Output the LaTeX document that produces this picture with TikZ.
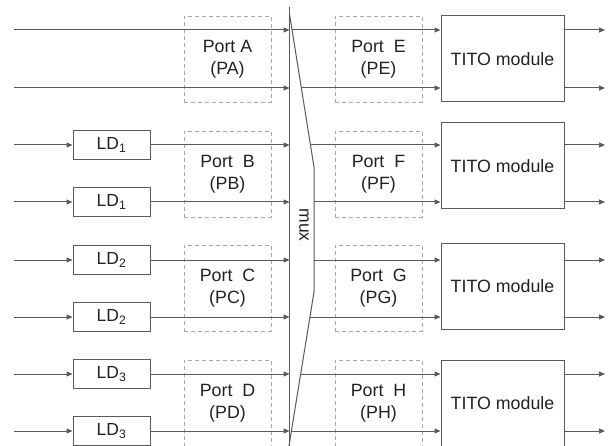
\documentclass[tikz,border=0pt]{standalone}
\usepackage{fontspec}
\setmainfont{Liberation Sans}
\usetikzlibrary{arrows.meta}
\definecolor{ln}{HTML}{5A5A5A}
\definecolor{dsh}{HTML}{A8A8A8}
\definecolor{tx}{HTML}{222222}
\begin{document}
\begin{tikzpicture}[x=1pt,y=-1pt,
  wire/.style={draw=ln,line width=1pt,-{Triangle[length=6pt,width=5pt]}},
  ldbox/.style={draw=ln,line width=1pt,minimum width=77pt,minimum height=29pt,inner sep=0pt,text=tx,font=\fontsize{17.5}{20}\selectfont},
  titobox/.style={draw=ln,line width=1pt,minimum width=123pt,minimum height=86pt,inner sep=0pt,text=tx,font=\fontsize{17.8}{20}\selectfont},
  portbox/.style={draw=dsh,dashed,dash pattern=on 4pt off 3pt,line width=0.7pt,minimum width=87pt,minimum height=86pt,inner sep=0pt,text=tx,align=center,font=\fontsize{17.8}{22}\selectfont}]
\clip (0,0) rectangle (615,446);
\fill[white] (0,0) rectangle (615,446);
% port boxes (dashed)
\node[portbox] (pa) at (227.5,59) {Port A\\(PA)};
\node[portbox] (pb) at (227.5,174) {Port\ \ B\\(PB)};
\node[portbox] (pc) at (227.5,288) {Port\ \ C\\(PC)};
\node[portbox] (pd) at (227.5,403) {Port\ \ D\\(PD)};
\node[portbox] (pe) at (378.5,59) {Port\ \ E\\(PE)};
\node[portbox] (pf) at (378.5,174) {Port\ \ F\\(PF)};
\node[portbox] (pg) at (378.5,288) {Port\ \ G\\(PG)};
\node[portbox] (ph) at (378.5,403) {Port\ \ H\\(PH)};
% TITO modules
\node[titobox] (t1) at (502.5,59) {TITO module};
\node[titobox] (t2) at (502.5,166) {TITO module};
\node[titobox] (t3) at (502.5,286) {TITO module};
\node[titobox] (t4) at (502.5,403) {TITO module};
% LD boxes
\node[ldbox] (l3) at (111.5,145) {LD\textsubscript{1}};
\node[ldbox] (l4) at (111.5,202) {LD\textsubscript{1}};
\node[ldbox] (l5) at (111.5,260) {LD\textsubscript{2}};
\node[ldbox] (l6) at (111.5,317) {LD\textsubscript{2}};
\node[ldbox] (l7) at (111.5,374) {LD\textsubscript{3}};
\node[ldbox] (l8) at (111.5,431) {LD\textsubscript{3}};
% mux
\coordinate (mt) at (289.5,7);
\coordinate (mb) at (289.5,450);
\coordinate (s1) at (289.5,14);
\coordinate (s2) at (314,167);
\coordinate (s3) at (314,292);
\coordinate (s4) at (288,452);
\draw[ln,line width=1pt] (mt) -- (mb);
\draw[ln,line width=1pt] (s1) -- (s2) -- (s3) -- (s4);
\node[rotate=-90,text=tx,font=\fontsize{17.5}{20}\selectfont] (mux) at (304,225) {mux};
% input free ends
\foreach \i/\y in {1/30,2/88,3/145,4/202,5/260,6/317,7/374,8/431}{
  \coordinate (in\i) at (14,\y);
  \coordinate (mi\i) at (289.5,\y);
  \coordinate (to\i) at (605,\y);
}
\coordinate (mo1) at (291.6,30);
\coordinate (mo2) at (301.1,88);
\coordinate (mo3) at (310.4,145);
\coordinate (mo4) at (314,202);
\coordinate (mo5) at (314,260);
\coordinate (mo6) at (309.8,317);
\coordinate (mo7) at (300.2,374);
\coordinate (mo8) at (290.5,431);
% inputs
\draw[wire] (in1) -- (mi1);
\draw[wire] (in2) -- (mi2);
\foreach \i in {3,...,8}{
  \draw[wire] (in\i) -- (l\i.west);
  \draw[wire] (l\i.east) -- (mi\i);
}
% outputs to TITO
\draw[wire] (mo1) -- (mo1 -| t1.west);
\draw[wire] (mo2) -- (mo2 -| t1.west);
\draw[wire] (mo3) -- (mo3 -| t2.west);
\draw[wire] (mo4) -- (mo4 -| t2.west);
\draw[wire] (mo5) -- (mo5 -| t3.west);
\draw[wire] (mo6) -- (mo6 -| t3.west);
\draw[wire] (mo7) -- (mo7 -| t4.west);
\draw[wire] (mo8) -- (mo8 -| t4.west);
% TITO outputs
\draw[wire] (to1 -| t1.east) -- (to1);
\draw[wire] (to2 -| t1.east) -- (to2);
\draw[wire] (to3 -| t2.east) -- (to3);
\draw[wire] (to4 -| t2.east) -- (to4);
\draw[wire] (to5 -| t3.east) -- (to5);
\draw[wire] (to6 -| t3.east) -- (to6);
\draw[wire] (to7 -| t4.east) -- (to7);
\draw[wire] (to8 -| t4.east) -- (to8);
\end{tikzpicture}
\end{document}
